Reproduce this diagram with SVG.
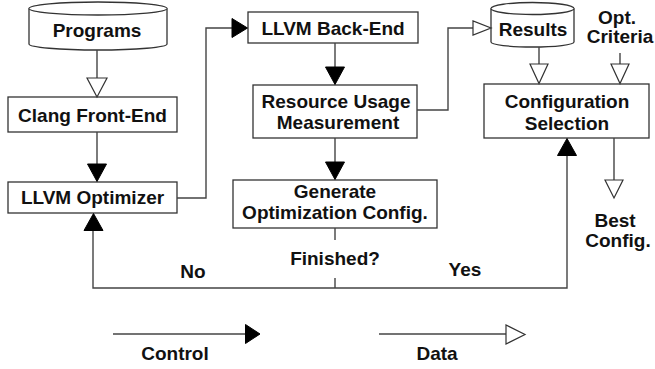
<svg xmlns="http://www.w3.org/2000/svg" width="655" height="369" viewBox="0 0 655 369">
<defs>
<style>
.box{fill:#fff;stroke:#333;stroke-width:1.3}
.ln{fill:none;stroke:#444;stroke-width:1.4}
.fh{fill:#000;stroke:#000;stroke-width:1}
.oh{fill:#fff;stroke:#333;stroke-width:1.2}
text{font-family:"Liberation Sans",Arial,sans-serif;font-weight:bold;font-size:19px;fill:#111;text-anchor:middle}
</style>
</defs>
<rect width="655" height="369" fill="#fff"/>
<g id="programs">
<path class="box" d="M29,8.5 A69,6.5 0 0 1 167,8.5 L167,44 A69,6 0 0 1 29,44 Z"/>
<path class="box" fill="none" d="M29,8.5 A69,6.5 0 0 0 167,8.5"/>
<text x="97" y="37">Programs</text>
</g>
<g id="clang">
<rect class="box" x="8" y="97" width="169" height="35"/>
<text x="92.5" y="122">Clang Front-End</text>
</g>
<g id="optimizer">
<rect class="box" x="8" y="182" width="169" height="31"/>
<text x="92.5" y="204">LLVM Optimizer</text>
</g>
<g id="backend">
<rect class="box" x="248" y="12" width="170" height="31"/>
<text x="333" y="35">LLVM Back-End</text>
</g>
<g id="resource">
<rect class="box" x="253" y="85" width="164" height="53"/>
<text x="336" y="108">Resource Usage</text>
<text x="338" y="129">Measurement</text>
</g>
<g id="generate">
<rect class="box" x="233" y="180" width="204" height="48"/>
<text x="335" y="198">Generate</text>
<text x="335" y="219">Optimization Config.</text>
</g>
<g id="results">
<path class="box" d="M491,8.5 A41.5,6 0 0 1 574,8.5 L574,42 A41.5,5 0 0 1 491,42 Z"/>
<path class="box" fill="none" d="M491,8.5 A41.5,6 0 0 0 574,8.5"/>
<text x="533" y="36">Results</text>
</g>
<g id="criteria">
<text x="617" y="24">Opt.</text>
<text x="620" y="43">Criteria</text>
</g>
<g id="selection">
<rect class="box" x="484" y="84" width="165" height="54"/>
<text x="567" y="108">Configuration</text>
<text x="567" y="130">Selection</text>
</g>
<g id="best">
<text x="615" y="227">Best</text>
<text x="618" y="247">Config.</text>
</g>
<g id="finished">
<text x="335" y="265">Finished?</text>
<text x="193" y="278">No</text>
<text x="465" y="276">Yes</text>
</g>
<g id="connectors">
<path class="ln" d="M97,50 V78"/>
<path class="oh" d="M87,78 L107,78 L97,97 Z"/>
<path class="ln" d="M97,132 V164"/>
<path class="fh" d="M87.5,164 L106.5,164 L97,181.5 Z"/>
<path class="ln" d="M177,198 H206 V28 H232"/>
<path class="fh" d="M232,18.5 L232,37.5 L247.5,28 Z"/>
<path class="ln" d="M335,43 V67"/>
<path class="fh" d="M325.5,67 L344.5,67 L335,84.5 Z"/>
<path class="ln" d="M335,138 V162"/>
<path class="fh" d="M325.5,162 L344.5,162 L335,179.5 Z"/>
<path class="ln" d="M335,228 V240 M335,278 V288"/>
<path class="ln" d="M93,231 V288 H567 V156"/>
<path class="fh" d="M84,230.5 L103,230.5 L93.5,213.5 Z"/>
<path class="fh" d="M557.5,155.5 L576.5,155.5 L567,138.5 Z"/>
<path class="ln" d="M417,110 H448 V28 H473"/>
<path class="oh" d="M473,21 L473,35 L491,28 Z"/>
<path class="ln" d="M539,47 V64"/>
<path class="oh" d="M530,64 L548,64 L539,83.5 Z"/>
<path class="ln" d="M620,53 V64"/>
<path class="oh" d="M611,64 L629,64 L620,83.5 Z"/>
<path class="ln" d="M614,138 V180"/>
<path class="oh" d="M605,180 L623,180 L614,198 Z"/>
</g>
<g id="legend">
<path class="ln" d="M113,334 H246"/>
<path class="fh" d="M245.5,324.5 L245.5,343.5 L260,334 Z"/>
<text x="175" y="360">Control</text>
<path class="ln" d="M379,334 H506"/>
<path class="oh" d="M506,325 L506,344 L525,334.5 Z"/>
<text x="437" y="360">Data</text>
</g>
</svg>
